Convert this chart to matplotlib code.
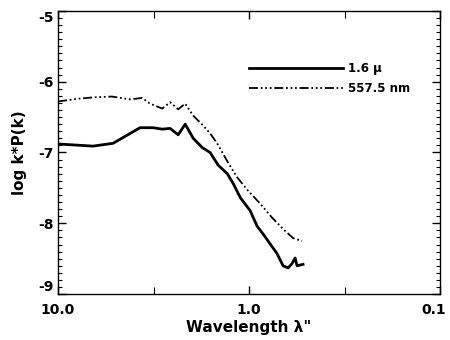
import numpy as np
import matplotlib
matplotlib.use('Agg')
import matplotlib.pyplot as plt
import matplotlib.transforms as mtransforms
from matplotlib.ticker import FixedLocator, NullFormatter, MultipleLocator

plt.rcParams['font.family'] = ['DejaVu Sans']
plt.rcParams['font.weight'] = 'bold'

# 1.6 micron spectrum
wl_ir = [10.0, 6.56, 5.15, 3.72, 3.18, 2.85, 2.59, 2.35, 2.16, 1.96, 1.76,
         1.60, 1.45, 1.30, 1.21, 1.11, 0.988, 0.908, 0.845, 0.776, 0.713,
         0.664, 0.625, 0.596, 0.574, 0.561, 0.522]
logkp_ir = [-6.88, -6.91, -6.87, -6.65, -6.65, -6.67, -6.66, -6.75, -6.60,
            -6.80, -6.93, -7.00, -7.18, -7.30, -7.44, -7.64, -7.82, -8.04,
            -8.15, -8.29, -8.43, -8.60, -8.63, -8.57, -8.49, -8.60, -8.58]

# 557.5 nm spectrum
wl_vis = [10.0, 7.86, 6.40, 5.22, 4.20, 3.63, 3.30, 2.85, 2.59, 2.35, 2.16,
          1.96, 1.74, 1.60, 1.47, 1.29, 1.155, 1.012, 0.876, 0.758, 0.664,
          0.588, 0.528]
logkp_vis = [-6.28, -6.24, -6.22, -6.21, -6.25, -6.23, -6.31, -6.38, -6.29,
             -6.39, -6.31, -6.48, -6.62, -6.73, -6.87, -7.14, -7.35, -7.54,
             -7.72, -7.92, -8.08, -8.21, -8.25]

x_ticks = [10.0, 1.0, 0.1]
x_labels = ['10.0', '1.0', '0.1']
y_ticks = [-9, -8, -7, -6, -5]

fig = plt.figure(figsize=(4.5, 3.4), dpi=100)
ax = fig.add_axes([0.129, 0.135, 0.849, 0.833])

ax.plot(wl_ir, logkp_ir, color='black', linewidth=2.0, label='1.6 \u03bc')
ax.plot(wl_vis, logkp_vis, color='black', linewidth=1.3,
        linestyle=(0, (5, 1.5, 1, 1.5, 1, 1.5, 1, 1.5)), label='557.5 nm')

ax.set_xscale('log')
ax.set_xlim(10.0, 0.1)
ax.set_ylim(-9, -5)

ax.xaxis.set_major_locator(FixedLocator(x_ticks))
ax.set_xticklabels(x_labels)
ax.xaxis.set_minor_locator(FixedLocator([10 ** 0.5, 10 ** -0.5]))
ax.xaxis.set_minor_formatter(NullFormatter())
ax.yaxis.set_major_locator(FixedLocator(y_ticks))
ax.set_yticklabels([str(v) for v in y_ticks])
ax.yaxis.set_minor_locator(MultipleLocator(0.1))

ax.tick_params(which='both', direction='in', top=True, right=True,
               labelsize=10)
ax.tick_params(axis='x', which='major', pad=6.5)
ax.tick_params(axis='y', which='major', pad=3)
ax.tick_params(which='major', length=6, width=1)
ax.tick_params(which='minor', length=3, width=0.8)
ax.tick_params(axis='x', which='minor', length=5)
for lbl in ax.get_xticklabels() + ax.get_yticklabels():
    lbl.set_fontweight('bold')

# IDL-style: end labels kept inside the axis range
ylbls = ax.get_yticklabels()
ylbls[0].set_va('bottom')
ylbls[-1].set_va('top')
xlbls = ax.get_xticklabels()
xlbls[-1].set_transform(xlbls[-1].get_transform() +
                        mtransforms.ScaledTranslation(-6 / 100, 0, fig.dpi_scale_trans))

ax.set_xlabel('Wavelength \u03bb"', fontsize=11, fontweight='bold', labelpad=2)
ax.set_ylabel('log k*P(k)', fontsize=11, fontweight='bold', labelpad=8)

ax.legend(loc='upper right', bbox_to_anchor=(0.949, 0.856), frameon=False,
          handlelength=8.0, handletextpad=0.4, labelspacing=0.6,
          prop={'weight': 'bold', 'size': 8.5})

for s in ax.spines.values():
    s.set_linewidth(1.0)

fig.savefig('out.png', dpi=100)
